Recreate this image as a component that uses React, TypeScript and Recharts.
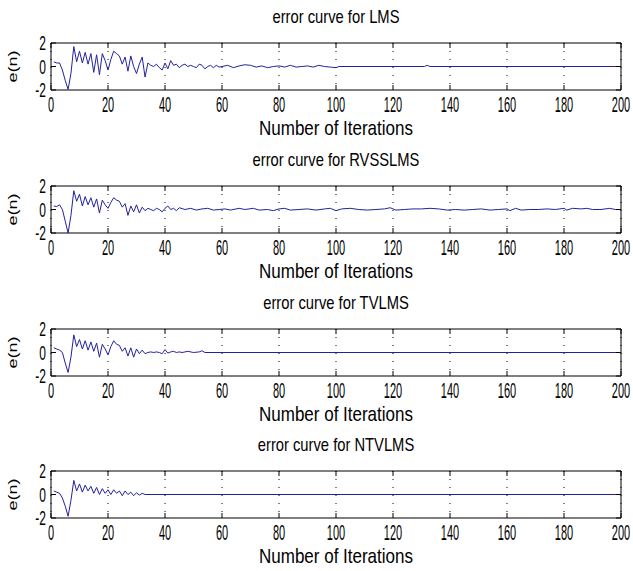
import { LineChart, Line, XAxis, YAxis, CartesianGrid, ReferenceArea } from 'recharts';

// iteration ticks and error axis ticks
const iterTicks = [0, 20, 40, 60, 80, 100, 120, 140, 160, 180, 200];
const errTicks = [-2, 0, 2];

const lmsIter = [
  1, 2, 3, 4, 5, 6, 7, 8, 9, 10, 11, 12, 13, 14, 15, 16, 17, 18, 19, 20,
  21, 22, 23, 24, 25, 26, 27, 28, 29, 30, 31, 32, 33, 34, 35, 36, 37, 38, 39, 40,
  41, 42, 43, 44, 45, 46, 47, 48, 49, 50, 51, 52, 53, 54, 55, 56, 57, 58, 59, 60,
  62, 64, 66, 68, 70, 72, 74, 76, 78, 80, 82, 84, 86, 88, 90, 92, 94, 96, 98, 100,
  101, 131, 132, 133, 200,
];
const lmsErr = [
  0.4, 0.3, 0.3, -0.3, -1.2, -1.95, -0.6, 1.7, 0.4, 1.3, 0.3, 1.2, 0.2, 1.1, -0.5, 1.0, -0.7, 1.1, 0.5, -0.3,
  0.6, 1.3, 1.1, 0.9, 0.2, 0.8, -0.4, 0.9, 0.0, -0.6, 0.2, 0.8, -0.9, 0.3, 0.1, 0.0, 0.2, -0.1, -0.3, 0.3,
  -0.2, 0.5, 0.1, 0.2, -0.1, 0.1, 0.2, 0.0, 0.1, 0.0, -0.1, 0.2, 0.1, -0.2, 0.0, 0.1, -0.1, 0.1, -0.05, 0.0,
  0.1, -0.1, 0.05, 0.15, 0.1, -0.05, 0.05, -0.1, 0.0, 0.05, -0.05, 0.1, -0.05, 0.0, 0.05, -0.05, 0.1, 0.0, -0.05, -0.1,
  0.0, 0.0, 0.1, 0.0, 0.0,
];

const rvssIter = [
  1, 2, 3, 4, 5, 6, 7, 8, 9, 10, 11, 12, 13, 14, 15, 16, 17, 18, 19, 20,
  21, 22, 23, 24, 25, 26, 27, 28, 29, 30, 31, 32, 33, 34, 35, 36, 37, 38, 39, 40,
  41, 42, 43, 44, 45, 47, 49, 51, 53, 55, 57, 59, 61, 63, 66, 68, 71, 73, 76, 78,
  80, 82, 84, 87, 90, 93, 96, 98, 100, 102, 105, 108, 111, 114, 117, 119, 121, 124, 127, 130,
  133, 136, 139, 142, 145, 148, 151, 154, 157, 160, 161, 163, 165, 168, 171, 174, 177, 180, 181, 183,
  186, 188, 190, 193, 196, 198, 200,
];
const rvssErr = [
  0.3, 0.25, 0.4, 0.0, -1.0, -2.0, -0.5, 1.6, 0.7, 1.3, 0.3, 1.1, 0.4, 1.0, 0.2, 0.9, -0.3, 0.8, 0.4, 0.1,
  0.6, 1.0, 0.8, 0.7, 0.2, 0.5, -0.5, 0.3, -0.2, 0.4, -0.3, 0.2, -0.1, 0.1, 0.0, -0.1, 0.1, 0.0, -0.2, 0.1,
  0.3, 0.0, 0.1, -0.1, 0.15, 0.0, 0.1, -0.05, 0.05, 0.1, -0.05, 0.0, 0.05, -0.05, 0.1, 0.0, 0.1, -0.05, 0.0, -0.1,
  0.05, 0.1, -0.05, 0.0, 0.05, -0.05, 0.05, 0.1, -0.1, 0.05, 0.1, 0.0, -0.05, 0.0, 0.05, 0.15, -0.05, 0.0, 0.05, 0.05,
  0.1, 0.05, -0.05, 0.0, -0.05, 0.0, 0.05, -0.05, 0.0, 0.05, -0.1, 0.1, -0.05, 0.0, 0.0, 0.05, 0.0, 0.1, -0.05, 0.1,
  0.05, 0.1, 0.0, 0.0, 0.1, 0.0, 0.0,
];

const tvIter = [
  1, 2, 3, 4, 5, 6, 7, 8, 9, 10, 11, 12, 13, 14, 15, 16, 17, 18, 19, 20,
  21, 22, 23, 24, 25, 26, 27, 28, 29, 30, 31, 32, 33, 34, 35, 36, 37, 38, 39, 40,
  41, 42, 43, 44, 45, 46, 48, 50, 52, 53, 54, 200,
];
const tvErr = [
  0.4, 0.3, 0.2, 0.0, -0.9, -1.7, -0.4, 1.5, 0.5, 1.1, 0.3, 1.0, 0.2, 0.9, 0.1, 0.8, -0.4, 0.7, 0.3, -0.2,
  0.5, 1.0, 0.7, 0.6, 0.1, 0.4, -0.3, 0.4, -0.4, 0.3, -0.1, 0.2, -0.1, 0.0, 0.05, 0.0, 0.05, 0.0, -0.1, 0.25,
  -0.05, 0.05, 0.1, 0.0, 0.05, 0.0, 0.1, 0.0, 0.05, 0.15, 0.0, 0.0,
];

const ntvIter = [
  1, 2, 3, 4, 5, 6, 7, 8, 9, 10, 11, 12, 13, 14, 15, 16, 17, 18, 19, 20,
  21, 22, 23, 24, 25, 26, 27, 28, 29, 30, 31, 32, 33, 200,
];
const ntvErr = [
  0.3, 0.2, 0.1, -0.3, -1.0, -1.85, -0.5, 1.2, 0.3, 0.9, 0.2, 0.8, 0.3, 0.7, 0.1, 0.6, 0.0, 0.5, 0.1, 0.4,
  0.0, 0.4, 0.1, 0.3, -0.1, 0.3, 0.0, 0.2, -0.1, 0.15, -0.05, 0.1, 0.0, 0.0,
];

const titles = ['error curve for LMS', 'error curve for RVSSLMS', 'error curve for TVLMS', 'error curve for NTVLMS'];

const PH = 47; // plot box height
const PL = 51; // plot left
const PR = 621; // plot right
const TOP = 14; // room above the box for the "2" label
const boxTops = [43, 186, 329, 471];
const font = 'Arial, "Liberation Sans", sans-serif';

function XTick(props: any) {
  const { x, y, payload } = props;
  return (
    <g>
      <line x1={x} y1={y} x2={x} y2={y - 5} stroke="#000" />
      <line x1={x} y1={y - PH} x2={x} y2={y - PH + 5} stroke="#000" />
      <text transform={`translate(${x},${y + 22}) scale(0.5,1)`} textAnchor="middle" fontSize={22} fontFamily={font} fill="#000">
        {payload.value}
      </text>
    </g>
  );
}

function YTick(props: any) {
  const { x, y, payload } = props;
  return (
    <g>
      <line x1={x} y1={y} x2={x + 5} y2={y} stroke="#000" />
      <line x1={PR - 5} y1={y} x2={PR} y2={y} stroke="#000" />
      <text transform={`translate(${x - 5},${y + 7}) scale(0.6,1)`} textAnchor="end" fontSize={20} fontFamily={font} fill="#000">
        {payload.value}
      </text>
    </g>
  );
}

function ErrorPlot({ iter, err }: { iter: number[]; err: number[] }) {
  const data = iter.map((n, i) => ({ n, e: err[i] }));
  return (
    <LineChart width={633} height={TOP + PH + 30} data={data} margin={{ top: TOP, right: 633 - PR, left: 0, bottom: 0 }}>
      <CartesianGrid horizontal={false} stroke="#000" strokeDasharray="1 7" />
      <XAxis
        dataKey="n"
        type="number"
        domain={[0, 200]}
        ticks={iterTicks}
        height={30}
        axisLine={false}
        tickLine={false}
        tickSize={0}
        tickMargin={0}
        tick={<XTick />}
        interval={0}
      />
      <YAxis
        type="number"
        domain={[-2, 2]}
        ticks={errTicks}
        width={PL}
        axisLine={false}
        tickLine={false}
        tickSize={0}
        tickMargin={0}
        tick={<YTick />}
        interval={0}
      />
      <ReferenceArea x1={0} x2={200} y1={-2} y2={2} fill="none" stroke="#000" strokeWidth={1} />
      <Line type="linear" dataKey="e" stroke="#2222a0" strokeWidth={1} dot={false} isAnimationActive={false} />
    </LineChart>
  );
}

export default function App() {
  const series = [
    { iter: lmsIter, err: lmsErr },
    { iter: rvssIter, err: rvssErr },
    { iter: tvIter, err: tvErr },
    { iter: ntvIter, err: ntvErr },
  ];
  const cx = (PL + PR) / 2;
  return (
    <div style={{ position: 'absolute', left: 0, top: 0, width: 633, height: 571, background: '#fff', overflow: 'hidden' }}>
      {series.map((s, i) => (
        <div key={i} style={{ position: 'absolute', left: 0, top: boxTops[i] - TOP }}>
          <ErrorPlot iter={s.iter} err={s.err} />
        </div>
      ))}
      <svg width={633} height={571} style={{ position: 'absolute', left: 0, top: 0, pointerEvents: 'none' }}>
        {boxTops.map((t, i) => (
          <g key={i} fontFamily={font} fill="#000">
            <text transform={`translate(${cx},${t - 20}) scale(0.82,1)`} textAnchor="middle" fontSize={18}>
              {titles[i]}
            </text>
            <text transform={`translate(${cx},${t + PH + 45}) scale(0.85,1)`} textAnchor="middle" fontSize={20}>
              Number of Iterations
            </text>
            <text transform={`translate(${17},${t + PH / 2}) rotate(-90) scale(1,0.75)`} textAnchor="middle" fontSize={18}>
              e(n)
            </text>
          </g>
        ))}
      </svg>
    </div>
  );
}
